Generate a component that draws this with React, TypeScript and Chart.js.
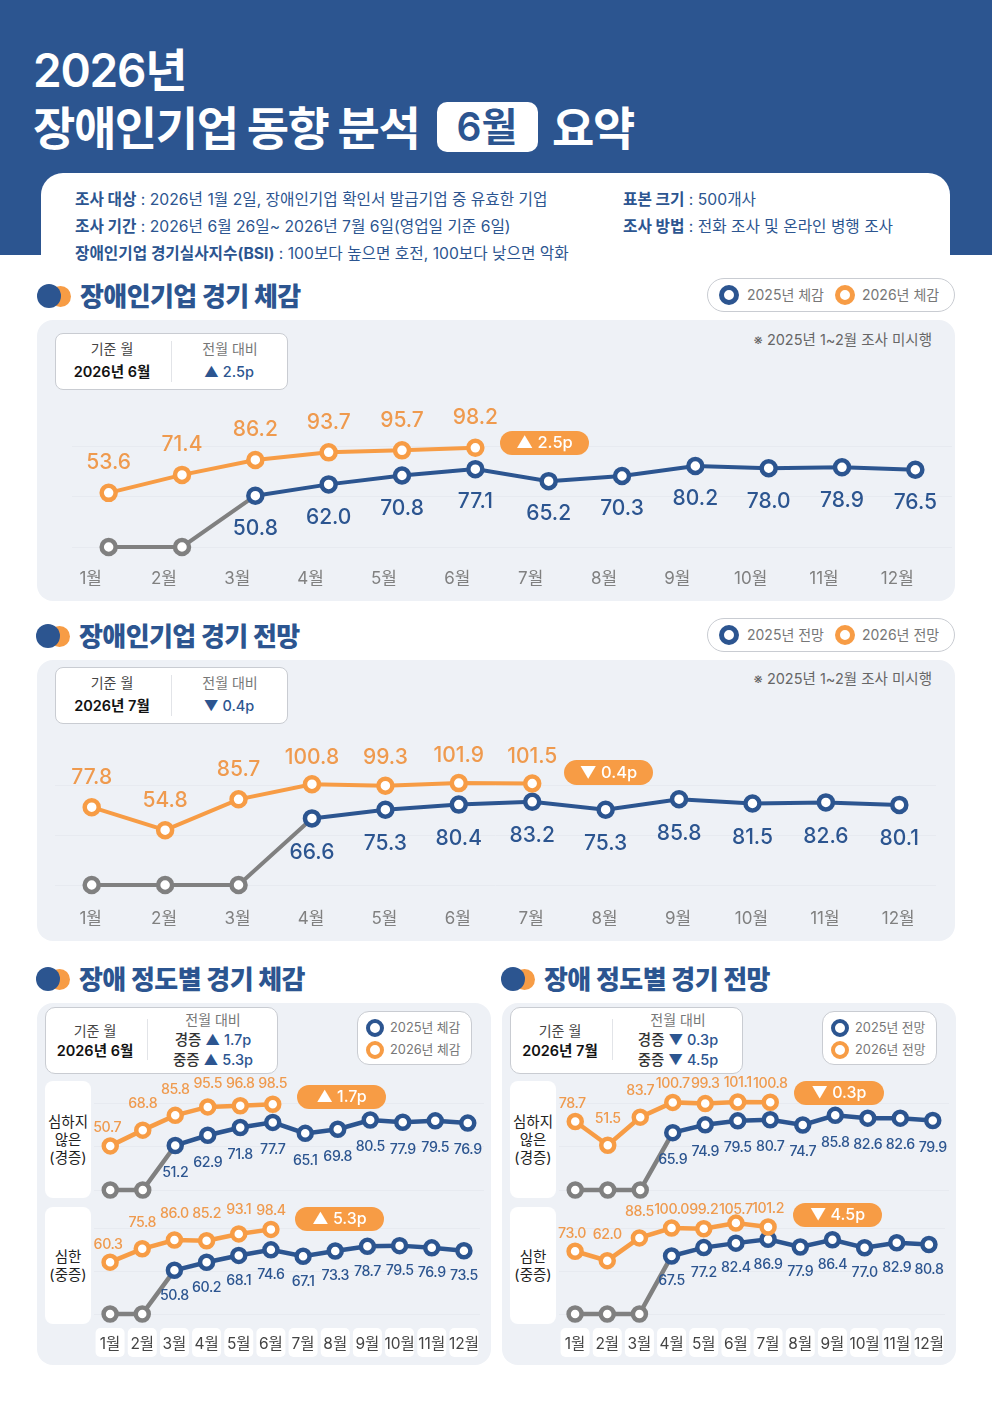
import { useEffect, useRef } from 'react';
import { Chart, registerables } from 'chart.js';

Chart.register(...registerables);

const months = ['1월', '2월', '3월', '4월', '5월', '6월', '7월', '8월', '9월', '10월', '11월', '12월'];

// 전체 체감 / 전망
const feel2026 = [53.6, 71.4, 86.2, 93.7, 95.7, 98.2];
const feel2025 = [null, null, 50.8, 62.0, 70.8, 77.1, 65.2, 70.3, 80.2, 78.0, 78.9, 76.5];
const outlook2026 = [77.8, 54.8, 85.7, 100.8, 99.3, 101.9, 101.5];
const outlook2025 = [null, null, null, 66.6, 75.3, 80.4, 83.2, 75.3, 85.8, 81.5, 82.6, 80.1];

// 장애 정도별
const mildFeel2026 = [50.7, 68.8, 85.8, 95.5, 96.8, 98.5];
const mildFeel2025 = [null, null, 51.2, 62.9, 71.8, 77.7, 65.1, 69.8, 80.5, 77.9, 79.5, 76.9];
const severeFeel2026 = [60.3, 75.8, 86.0, 85.2, 93.1, 98.4];
const severeFeel2025 = [null, null, 50.8, 60.2, 68.1, 74.6, 67.1, 73.3, 78.7, 79.5, 76.9, 73.5];
const mildOutlook2026 = [78.7, 51.5, 83.7, 100.7, 99.3, 101.1, 100.8];
const mildOutlook2025 = [null, null, null, 65.9, 74.9, 79.5, 80.7, 74.7, 85.8, 82.6, 82.6, 79.9];
const severeOutlook2026 = [73.0, 62.0, 88.5, 100.0, 99.2, 105.7, 101.2];
const severeOutlook2025 = [null, null, null, 67.5, 77.2, 82.4, 86.9, 77.9, 86.4, 77.0, 82.9, 80.8];

const NAVY = '#2C5590';
const ORANGE = '#F79C45';
const LABEL_ORANGE = '#EF9A4E';
const GRAY = '#808080';
const PANEL = '#EEF1F6';
const FONT = 'Inter, "Noto Sans CJK KR", sans-serif';
const KR = '"Noto Sans CJK KR", sans-serif';

interface LineProps {
  orange: number[];
  navy: (number | null)[];
  x0: number; // 1월 점의 x
  step: number;
  y100: number;
  y0: number;
  small?: boolean;
  navyDy: number;
  orangeDy: number | number[];
  orangeDx?: number;
  axis?: 'plain' | 'chips';
  labelOffset?: number;
  tickPad?: number;
}

const LineChart: React.FC<LineProps> = (props) => {
  const ref = useRef<HTMLCanvasElement>(null);
  const pad = 24;
  const head = props.small ? 40 : 50;
  const foot = props.axis ? 46 : 14;
  const width = Math.round(props.step * 12 + pad * 2);
  const height = Math.round(props.y0 - props.y100 + head + foot);

  useEffect(() => {
    const first = props.navy.findIndex((v) => v !== null);
    // 조사 미시행 구간은 0에 두고 첫 조사값까지 회색선으로 잇는다
    const gap = props.navy.map((v, i) => (i < first ? 0 : i === first ? v : null));

    const pointLabels = {
      id: 'pointLabels',
      afterDatasetsDraw(chart: Chart) {
        const c = chart.ctx as any;
        c.save();
        c.textAlign = 'center';
        c.textBaseline = 'middle';
        c.font = `500 ${props.small ? 14.2 : 21}px ${FONT}`;
        c.letterSpacing = props.small ? '-0.4px' : '0px';
        chart.getDatasetMeta(1).data.forEach((pt, i) => {
          const v = props.navy[i];
          if (v === null) return;
          c.fillStyle = NAVY;
          c.fillText(v.toFixed(1), pt.x, pt.y + props.navyDy);
        });
        chart.getDatasetMeta(0).data.forEach((pt, i) => {
          const dy = Array.isArray(props.orangeDy) ? props.orangeDy[i] : props.orangeDy;
          c.fillStyle = LABEL_ORANGE;
          c.fillText(props.orange[i].toFixed(1), pt.x + (i === 0 ? props.orangeDx ?? 0 : 0), pt.y + dy);
        });
        c.restore();
      },
    };

    const chips = {
      id: 'chips',
      beforeDraw(chart: Chart) {
        if (props.axis !== 'chips') return;
        const c = chart.ctx;
        const sc = chart.scales.x;
        c.save();
        c.fillStyle = '#fff';
        months.forEach((_, i) => {
          c.beginPath();
          c.roundRect(sc.getPixelForTick(i) - 14.5, chart.chartArea.bottom + 14, 29, 29, 5);
          c.fill();
        });
        c.restore();
      },
    };

    const pointStyle = (color: string) => ({
      borderColor: color,
      pointBorderColor: color,
      pointBackgroundColor: '#fff',
      borderWidth: props.small ? 4.5 : 4,
      pointBorderWidth: 4.5,
      pointRadius: props.small ? 6.5 : 7,
      clip: false as const,
      tension: 0,
    });

    const chart = new Chart(ref.current!, {
      type: 'line',
      data: {
        labels: months,
        // 앞쪽 데이터셋이 위에 그려진다
        datasets: [
          { data: props.orange, ...pointStyle(ORANGE) },
          { data: props.navy, ...pointStyle(NAVY) },
          {
            data: gap,
            ...pointStyle(GRAY),
            pointRadius: (ctx: any) => (ctx.dataIndex < first ? (props.small ? 6.5 : 7) : 0),
          },
        ],
      },
      options: {
        responsive: false,
        animation: false,
        layout: { padding: { left: pad, right: pad, top: head, bottom: 0 } },
        plugins: { legend: { display: false }, tooltip: { enabled: false } },
        scales: {
          x: {
            offset: true,
            grid: { display: false },
            border: { display: false },
            afterFit: (s: any) => {
              s.height = foot;
            },
            ticks: {
              display: !!props.axis,
              autoSkip: false,
              maxRotation: 0,
              padding: props.tickPad ?? 13,
              labelOffset: props.labelOffset ?? 0,
              color: props.small ? '#444' : '#808080',
              font: { family: FONT, size: props.small ? 15.5 : 17 },
            },
          },
          y: {
            min: 0,
            max: 100,
            grid: { color: '#E7EAF0', lineWidth: 1, drawTicks: false },
            border: { display: false },
            afterFit: (s: any) => {
              s.width = 0;
            },
            ticks: { display: false, stepSize: 50 },
          },
        },
      },
      plugins: [chips, pointLabels],
    });
    return () => chart.destroy();
  }, [props]);

  return (
    <canvas
      ref={ref}
      width={width}
      height={height}
      style={{
        position: 'absolute',
        left: props.x0 - props.step / 2 - pad,
        top: props.y100 - head,
        width,
        height,
      }}
    />
  );
};

const Text: React.FC<{
  x: number;
  y: number;
  size: number;
  color?: string;
  weight?: number;
  center?: boolean;
  right?: boolean;
  spacing?: number;
  children: React.ReactNode;
}> = ({ x, y, size, color = '#222', weight = 400, center, right, spacing = 0, children }) => (
  <div
    style={{
      position: 'absolute',
      left: x,
      top: y,
      transform: `translate(${center ? '-50%' : right ? '-100%' : '0'}, -50%)`,
      fontFamily: FONT,
      fontSize: size,
      fontWeight: weight,
      color,
      letterSpacing: spacing,
      whiteSpace: 'nowrap',
      lineHeight: 1.2,
    }}
  >
    {children}
  </div>
);

const Box: React.FC<{
  x: number;
  y: number;
  w: number;
  h: number;
  r: number;
  bg?: string;
  border?: string;
}> = ({ x, y, w, h, r, bg = '#fff', border }) => (
  <div
    style={{
      position: 'absolute',
      left: x,
      top: y,
      width: w,
      height: h,
      borderRadius: r,
      background: bg,
      border: border ? `1px solid ${border}` : undefined,
      boxSizing: 'border-box',
    }}
  />
);

const Ring: React.FC<{ x: number; y: number; d: number; color: string }> = ({ x, y, d, color }) => (
  <div
    style={{
      position: 'absolute',
      left: x - d / 2,
      top: y - d / 2,
      width: d,
      height: d,
      borderRadius: '50%',
      border: `${d * 0.25}px solid ${color}`,
      background: '#fff',
      boxSizing: 'border-box',
    }}
  />
);

const Heading: React.FC<{ x: number; y: number; text: string }> = ({ x, y, text }) => (
  <>
    <div style={{ position: 'absolute', left: x + 13, top: y - 10.5, width: 21, height: 21, borderRadius: '50%', background: ORANGE }} />
    <div style={{ position: 'absolute', left: x, top: y - 12, width: 24, height: 24, borderRadius: '50%', background: NAVY }} />
    <Text x={x + 43} y={y} size={26} weight={800} color={NAVY} spacing={-0.6}>
      <span style={{ fontFamily: KR }}>{text}</span>
    </Text>
  </>
);

const Pill: React.FC<{ x: number; y: number; w: number; h: number; text: string; size: number }> = ({ x, y, w, h, text, size }) => (
  <>
    <Box x={x} y={y} w={w} h={h} r={h / 2} bg={ORANGE} />
    <Text x={x + w / 2} y={y + h / 2} size={size} color="#fff" weight={500} center>
      {text}
    </Text>
  </>
);

const BigLegend: React.FC<{ y: number; a: string; b: string }> = ({ y, a, b }) => (
  <>
    <Box x={707} y={y - 17} w={248} h={34} r={17} border="#C9CCD2" />
    <Ring x={729} y={y} d={20} color={NAVY} />
    <Text x={747} y={y} size={14} color="#777">{a}</Text>
    <Ring x={845} y={y} d={20} color={ORANGE} />
    <Text x={862} y={y} size={14} color="#777">{b}</Text>
  </>
);

const BigInfo: React.FC<{ y: number; month: string; delta: string }> = ({ y, month, delta }) => (
  <>
    <Box x={55} y={y} w={233} h={57} r={8} border="#C9CCD2" />
    <div style={{ position: 'absolute', left: 171, top: y + 8, width: 1, height: 41, background: '#E2E4E8' }} />
    <Text x={112} y={y + 16} size={14} color="#444" center>기준 월</Text>
    <Text x={112} y={y + 39} size={14.5} color="#111" weight={600} center>{month}</Text>
    <Text x={230} y={y + 16} size={14} color="#777" center>전월 대비</Text>
    <Text x={229} y={y + 39} size={14.5} color={NAVY} weight={500} center>{delta}</Text>
  </>
);

const Note: React.FC<{ y: number }> = ({ y }) => (
  <Text x={932} y={y} size={14.5} color="#666" right>※ 2025년 1~2월 조사 미시행</Text>
);

const SmallPanel: React.FC<{
  x: number;
  month: string;
  mild: string;
  severe: string;
  a: string;
  b: string;
}> = ({ x, month, mild, severe, a, b }) => (
  <>
    <Box x={x} y={1003} w={454} h={362} r={16} bg={PANEL} />
    <Box x={x + 8} y={1007} w={233} h={67} r={10} border="#C9CCD2" />
    <div style={{ position: 'absolute', left: x + 110, top: 1019, width: 1, height: 41, background: '#E2E4E8' }} />
    <Text x={x + 58} y={1031} size={14} color="#444" center>기준 월</Text>
    <Text x={x + 58} y={1051} size={14.5} color="#111" weight={600} center>{month}</Text>
    <Text x={x + 176} y={1020} size={14} color="#777" center>전월 대비</Text>
    <Text x={x + 176} y={1040} size={14.5} color={NAVY} weight={500} center>
      <span style={{ color: '#333' }}>경증</span> {mild}
    </Text>
    <Text x={x + 176} y={1060} size={14.5} color={NAVY} weight={500} center>
      <span style={{ color: '#333' }}>중증</span> {severe}
    </Text>
    <Box x={x + 320} y={1011} w={115} h={54} r={12} border="#C9CCD2" />
    <Ring x={x + 338} y={1028} d={18} color={NAVY} />
    <Text x={x + 353} y={1028} size={12.8} color="#777">{a}</Text>
    <Ring x={x + 338} y={1050} d={18} color={ORANGE} />
    <Text x={x + 353} y={1050} size={12.8} color="#777">{b}</Text>
    <Box x={x + 8} y={1081} w={46} h={117} r={8} />
    <Box x={x + 8} y={1207} w={46} h={117} r={8} />
    <Text x={x + 31} y={1122} size={14.5} center>심하지</Text>
    <Text x={x + 31} y={1140} size={14.5} center>않은</Text>
    <Text x={x + 31} y={1158} size={14.5} center>(경증)</Text>
    <Text x={x + 31} y={1257} size={14.5} center>심한</Text>
    <Text x={x + 31} y={1275} size={14.5} center>(중증)</Text>
  </>
);

export default function App() {
  return (
    <div style={{ position: 'absolute', left: 0, top: 0, width: 992, height: 1403, background: '#fff', overflow: 'hidden' }}>
      <Box x={0} y={0} w={992} h={255} r={0} bg={NAVY} />
      <Text x={33} y={71} size={46} color="#fff" weight={600} spacing={-1.2}>2026년</Text>
      <Text x={33} y={127} size={46} color="#fff" weight={700} spacing={-1.4}>
        <span style={{ fontFamily: KR }}>장애인기업 동향 분석</span>
      </Text>
      <Box x={437} y={102} w={101} h={50} r={10} />
      <Text x={487} y={127} size={39} color={NAVY} weight={600} center>6월</Text>
      <Text x={552} y={127} size={46} color="#fff" weight={700} spacing={-1.4}>
        <span style={{ fontFamily: KR }}>요약</span>
      </Text>

      <div style={{ position: 'absolute', left: 41, top: 173, width: 909, height: 100, background: '#fff', borderRadius: '22px 22px 0 0' }} />
      <Text x={75} y={200} size={15.7} color={NAVY}><b>조사 대상</b> : 2026년 1월 2일, 장애인기업 확인서 발급기업 중 유효한 기업</Text>
      <Text x={75} y={227} size={15.7} color={NAVY}><b>조사 기간</b> : 2026년 6월 26일~ 2026년 7월 6일(영업일 기준 6일)</Text>
      <Text x={75} y={254} size={15.7} color={NAVY}><b>장애인기업 경기실사지수(BSI)</b> : 100보다 높으면 호전, 100보다 낮으면 악화</Text>
      <Text x={623} y={200} size={15.7} color={NAVY}><b>표본 크기</b> : 500개사</Text>
      <Text x={623} y={227} size={15.7} color={NAVY}><b>조사 방법</b> : 전화 조사 및 온라인 병행 조사</Text>

      <Heading x={37} y={296} text="장애인기업 경기 체감" />
      <BigLegend y={295} a="2025년 체감" b="2026년 체감" />
      <Box x={37} y={320} w={918} h={281} r={16} bg={PANEL} />
      <BigInfo y={333} month="2026년 6월" delta="▲ 2.5p" />
      <Note y={340} />
      <LineChart orange={feel2026} navy={feel2025} x0={109} step={73.35} y100={446} y0={547} navyDy={33} orangeDy={-30} axis="plain" labelOffset={-18} tickPad={14} />
      <Pill x={500} y={431} w={89} h={24} text="▲ 2.5p" size={16.5} />

      <Heading x={36} y={636} text="장애인기업 경기 전망" />
      <BigLegend y={635} a="2025년 전망" b="2026년 전망" />
      <Box x={37} y={660} w={918} h={281} r={16} bg={PANEL} />
      <BigInfo y={667} month="2026년 7월" delta="▼ 0.4p" />
      <Note y={679} />
      <LineChart orange={outlook2026} navy={outlook2025} x0={92} step={73.45} y100={785} y0={885} navyDy={34} orangeDy={[-30, -30, -30, -27, -28, -27, -27]} axis="plain" labelOffset={-1} tickPad={16} />
      <Pill x={564} y={760} w={89} h={25} text="▼ 0.4p" size={16.5} />

      <Heading x={36} y={979} text="장애 정도별 경기 체감" />
      <SmallPanel x={37} month="2026년 6월" mild="▲ 1.7p" severe="▲ 5.3p" a="2025년 체감" b="2026년 체감" />
      <LineChart small orange={mildFeel2026} navy={mildFeel2025} x0={110} step={32.5} y100={1103} y0={1190} navyDy={27} orangeDy={[-18, -26, -26, -23, -22, -21]} orangeDx={-3} />
      <LineChart small orange={severeFeel2026} navy={severeFeel2025} x0={110} step={32.2} y100={1228} y0={1314} navyDy={25} orangeDy={[-17, -26, -26, -27, -24, -19]} orangeDx={-2} axis="chips" />
      <Pill x={297} y={1085} w={89} h={24} text="▲ 1.7p" size={16} />
      <Pill x={295} y={1207} w={89} h={24} text="▲ 5.3p" size={16} />

      <Heading x={501} y={979} text="장애 정도별 경기 전망" />
      <SmallPanel x={502} month="2026년 7월" mild="▼ 0.3p" severe="▼ 4.5p" a="2025년 전망" b="2026년 전망" />
      <LineChart small orange={mildOutlook2026} navy={mildOutlook2025} x0={575} step={32.5} y100={1103} y0={1190} navyDy={27} orangeDy={[-18, -26, -26, -19, -20, -19, -19]} orangeDx={-3} />
      <LineChart small orange={severeOutlook2026} navy={severeOutlook2025} x0={575} step={32.2} y100={1228} y0={1314} navyDy={25} orangeDy={[-17, -26, -26, -18, -19, -13, -18]} orangeDx={-3} axis="chips" />
      <Pill x={794} y={1081} w={90} h={24} text="▼ 0.3p" size={16} />
      <Pill x={793} y={1203} w={89} h={24} text="▼ 4.5p" size={16} />
    </div>
  );
}
